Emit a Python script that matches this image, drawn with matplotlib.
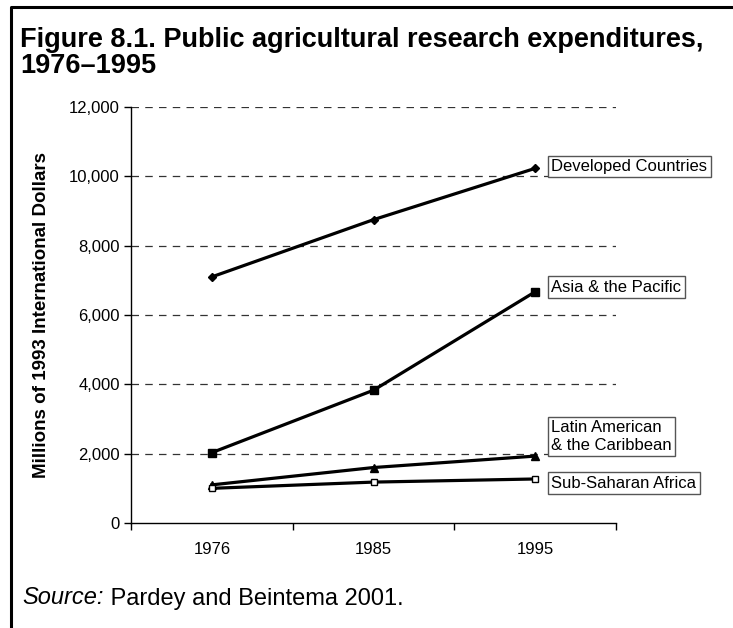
import matplotlib.pyplot as plt
from matplotlib.lines import Line2D

plt.rcParams['font.family'] = ['Liberation Sans', 'DejaVu Sans']

years = ['1976', '1985', '1995']
developed = [7100, 8750, 10230]
asia_pacific = [2030, 3830, 6670]
latin_america = [1100, 1600, 1930]
ss_africa = [1000, 1180, 1270]

series_names = ['Developed Countries', 'Asia & the Pacific',
                'Latin American\n& the Caribbean', 'Sub-Saharan Africa']
label_y = [10280, 6800, 2500, 1150]

fig = plt.figure(figsize=(7.33, 6.28), dpi=100)
ax = fig.add_axes([131 / 733, 105 / 628, 485 / 733, 416 / 628])

x = range(len(years))
ax.plot(x, developed, color='black', lw=2.3, marker='D', ms=4)
ax.plot(x, asia_pacific, color='black', lw=2.3, marker='s', ms=6)
ax.plot(x, latin_america, color='black', lw=2.3, marker='^', ms=6)
ax.plot(x, ss_africa, color='black', lw=2.3, marker='s', ms=5,
        markerfacecolor='white', markeredgewidth=1)

# boxed series labels to the right of the last point
for name, yv in zip(series_names, label_y):
    ax.text(2.1, yv, name, fontsize=12, ha='left', va='center',
            clip_on=False, linespacing=1.2,
            bbox=dict(boxstyle='square,pad=0.2', facecolor='white',
                      edgecolor='#555555', lw=1))

ax.set_xlim(-0.5, 2.5)
ax.set_ylim(0, 12000)
ax.set_yticks(range(0, 12001, 2000))
ax.set_yticklabels([f'{v:,}' for v in range(0, 12001, 2000)], fontsize=12)
ax.set_xticks([-0.5, 0.5, 1.5, 2.5])
ax.set_xticklabels([])
ax.set_xticks(list(x), minor=True)
ax.set_xticklabels(years, minor=True, fontsize=12)
ax.tick_params(axis='x', which='minor', length=0, pad=14)
ax.tick_params(axis='x', which='major', direction='out', length=5, width=1)
ax.tick_params(axis='y', direction='out', length=5, width=1, pad=3)

for v in range(2000, 12001, 2000):
    ax.axhline(v, color='#333333', lw=0.9, ls=(0, (6, 5)), zorder=0)

for side in ['top', 'right']:
    ax.spines[side].set_visible(False)
ax.spines['left'].set_linewidth(1)
ax.spines['bottom'].set_linewidth(1)

ax.set_ylabel('Millions of 1993 International Dollars', fontsize=13.5,
              fontweight='bold', labelpad=14)

fig.text(20 / 733, 1 - 27 / 628,
         'Figure 8.1. Public agricultural research expenditures,\n1976\u20131995',
         fontsize=19.5, fontweight='bold', ha='left', va='top', linespacing=1.0)

# source note: italic "Source:" followed by the plain citation
src = fig.text(22 / 733, 1 - 598 / 628, 'Source:', fontsize=17, style='italic',
               ha='left', va='center')
ax.annotate(' Pardey and Beintema 2001.', xy=(1, 0), xycoords=src,
            fontsize=17, ha='left', va='bottom', annotation_clip=False)

# frame along the left and top edges
fig.add_artist(Line2D([11 / 733, 11 / 733, 1], [0, 1 - 7 / 628, 1 - 7 / 628],
                      transform=fig.transFigure, color='black', lw=2.2))

fig.savefig('out.png', dpi=100)
